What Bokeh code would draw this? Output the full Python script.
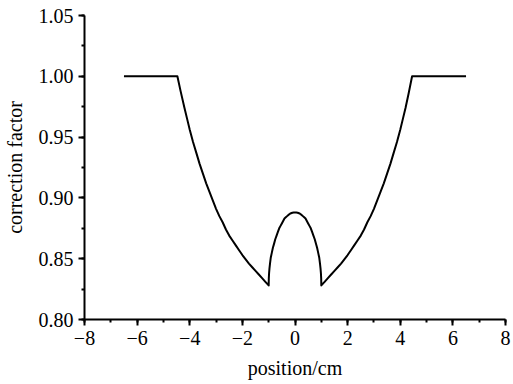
from bokeh.plotting import figure
from bokeh.models import Range1d, SingleIntervalTicker, NumeralTickFormatter
from bokeh.embed import file_html
from bokeh.resources import INLINE

# values (left half, then dome, then right half)
position = [-6.5, -4.47, -4.35, -4.2, -4.1, -4.0, -3.875, -3.75, -3.625, -3.5, -3.375,
            -3.25, -3.125, -3.0, -2.875, -2.75, -2.625, -2.5, -2.375, -2.25, -2.125,
            -2.0, -1.875, -1.75, -1.625, -1.5, -1.375, -1.25, -1.125, -1.0,
            -0.995, -0.985, -0.97, -0.95, -0.92, -0.88, -0.84, -0.8, -0.75, -0.7, -0.65,
            -0.6, -0.55, -0.5, -0.45, -0.4, -0.35, -0.3, -0.25, -0.2, -0.15, -0.1, -0.05, 0.0,
            0.05, 0.1, 0.15, 0.2, 0.25, 0.3, 0.35, 0.4, 0.45, 0.5, 0.55, 0.6,
            0.65, 0.7, 0.75, 0.8, 0.84, 0.88, 0.92, 0.95, 0.97, 0.985, 0.995, 1.0,
            1.125, 1.25, 1.375, 1.5, 1.625, 1.75, 1.875, 2.0, 2.125, 2.25, 2.375, 2.5,
            2.625, 2.75, 2.875, 3.0, 3.125, 3.25, 3.375, 3.5, 3.625, 3.75, 3.875, 4.0,
            4.1, 4.2, 4.32, 4.45, 6.5]
correction = [1.000, 1.000, 0.988, 0.974, 0.965, 0.956, 0.946, 0.937, 0.928, 0.920, 0.912,
              0.905, 0.898, 0.891, 0.885, 0.880, 0.874, 0.869, 0.865, 0.861, 0.857,
              0.853, 0.8495, 0.846, 0.843, 0.840, 0.837, 0.834, 0.831, 0.828,
              0.834, 0.838, 0.842, 0.846, 0.851, 0.855, 0.859, 0.862, 0.866, 0.869, 0.872,
              0.875, 0.877, 0.879, 0.881, 0.883, 0.884, 0.885, 0.886, 0.8868, 0.8874, 0.8878, 0.888, 0.888,
              0.888, 0.8878, 0.8874, 0.8868, 0.886, 0.885, 0.884, 0.883, 0.881, 0.879, 0.877, 0.875,
              0.872, 0.869, 0.866, 0.862, 0.859, 0.855, 0.851, 0.846, 0.842, 0.838, 0.834, 0.828,
              0.831, 0.834, 0.837, 0.840, 0.843, 0.846, 0.8495, 0.853, 0.857, 0.861, 0.865, 0.869,
              0.874, 0.880, 0.885, 0.891, 0.898, 0.905, 0.912, 0.920, 0.928, 0.937, 0.946, 0.956,
              0.965, 0.974, 0.986, 1.000, 1.000]

x_ticks = [-8, -6, -4, -2, 0, 2, 4, 6, 8]
x_tick_labels = ["\u22128", "\u22126", "\u22124", "\u22122", "0", "2", "4", "6", "8"]

FONT = "Liberation Serif"

p = figure(width=513, height=384, output_backend="svg", toolbar_location=None,
           x_range=Range1d(-8, 8), y_range=Range1d(0.80, 1.05),
           min_border_left=84, min_border_right=8, min_border_top=15, min_border_bottom=65)

p.line(position, correction, line_color="black", line_width=2, line_join="round")

p.xgrid.visible = False
p.ygrid.visible = False
p.outline_line_color = None
p.background_fill_color = "white"
p.border_fill_color = "white"

for ax in (p.xaxis[0], p.yaxis[0]):
    ax.axis_line_width = 2
    ax.major_tick_line_width = 2
    ax.minor_tick_line_width = 2
    ax.major_tick_out = 6
    ax.major_tick_in = 0
    ax.minor_tick_out = 3
    ax.minor_tick_in = 0
    ax.major_label_text_font = FONT
    ax.major_label_text_font_size = "20px"
    ax.major_label_text_color = "black"
    ax.axis_label_text_font = FONT
    ax.axis_label_text_font_size = "20px"
    ax.axis_label_text_font_style = "normal"
    ax.axis_label_text_color = "black"

p.xaxis.ticker = SingleIntervalTicker(interval=2, num_minor_ticks=2)
p.xaxis.major_label_overrides = {float(t): l for t, l in zip(x_ticks, x_tick_labels)}
p.xaxis.axis_label = "position/cm"
p.xaxis.major_label_standoff = 5
p.xaxis.axis_label_standoff = 9

p.yaxis.ticker = SingleIntervalTicker(interval=0.05, num_minor_ticks=2)
p.yaxis.formatter = NumeralTickFormatter(format="0.00")
p.yaxis.axis_label = "correction factor"
p.yaxis.major_label_standoff = 5
p.yaxis.axis_label_standoff = 10

open("out.html", "w").write(file_html(p, INLINE))
